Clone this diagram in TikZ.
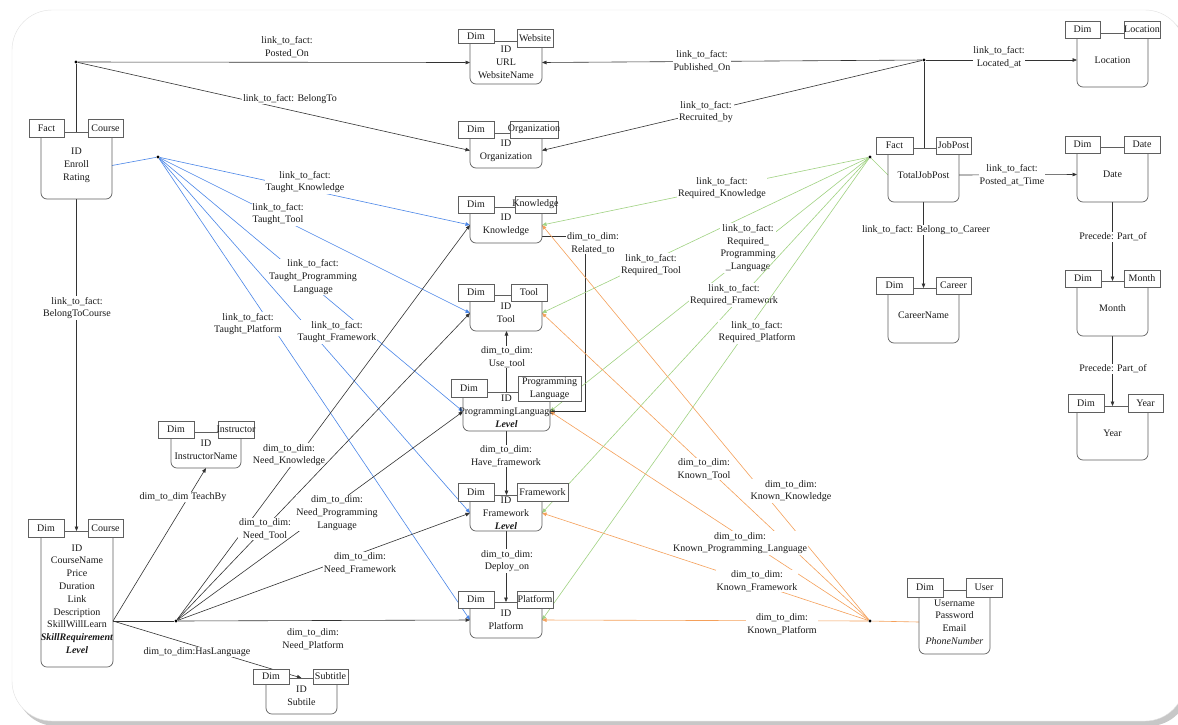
\documentclass[tikz,border=0pt]{standalone}
\usepackage{fontspec}
\setmainfont{Liberation Serif}
\usetikzlibrary{arrows.meta,calc}
\definecolor{cblue}{RGB}{74,134,232}
\definecolor{cgreen}{RGB}{160,210,130}
\definecolor{corange}{RGB}{245,160,90}
\definecolor{ink}{RGB}{25,25,25}
\definecolor{edgec}{RGB}{95,95,95}
\newcommand\myfont{\fontsize{10}{12.8}\selectfont}
\pgfdeclarelayer{bg}
\pgfdeclarelayer{lines}
\pgfsetlayers{bg,lines,main}
\tikzset{
  bodybox/.style={rectangle, inner sep=0, outer sep=0, draw=none},
  btext/.style={align=center, inner sep=0, font=\myfont, text=ink},
  bodyln/.style={draw=edgec, line width=0.7pt},
  hdbox/.style={rectangle, draw=edgec, fill=white, line width=0.7pt, inner sep=0, outer sep=0},
  htext/.style={align=center, inner sep=0, font=\myfont, text=ink},
  lbl/.style={align=center, fill=white, inner sep=0.8pt, font=\myfont, text=ink},
  conn/.style={draw=black!80, line width=0.6pt},
  bl/.style={draw=cblue, line width=0.6pt},
  gr/.style={draw=cgreen, line width=0.6pt},
  orl/.style={draw=corange, line width=0.6pt},
  arr/.style={-{Triangle[length=4.5pt,width=3.6pt]}},
  dot/.style={circle, fill=black, inner sep=0, minimum size=3.3pt}
}
\newcommand\ent[5]{%
  \node[bodybox, minimum width=#3, minimum height=#4] (#1) at (#2) {};
  \node[btext] (#1t) at (#1.center) {#5};
  \draw[bodyln, rounded corners=6pt] (#1.north west) -- (#1.south west) -- (#1.south east) -- (#1.north east);
  \draw[bodyln] (#1.north west) -- (#1.north east);}
\newcommand\hdr[5]{%
  \node[hdbox, minimum width=#3, minimum height=#4] (#1) at (#2) {};
  \node[htext] (#1t) at (#1.center) {#5};}
\begin{document}
\begin{tikzpicture}[x=1pt,y=-1pt]
\useasboundingbox (0,0) rectangle (1178,724);
\begin{pgfonlayer}{bg}
  \fill[black!22, rounded corners=40pt] (16,14) rectangle (1189,726);
  \draw[draw=black!12, fill=white, rounded corners=40pt] (12,10) rectangle (1185,721);
\end{pgfonlayer}

% entities
\ent{web}{506,62.5}{72}{43}{ID\\URL\\WebsiteName}
\hdr{webA}{476,36}{36}{14}{Dim}
\hdr{webB}{535,38}{36}{18}{Website}

\ent{org}{506,150.5}{72}{35}{ID\\Organization}
\hdr{orgA}{476,129.5}{36}{17}{Dim}
\hdr{orgB}{534,129.5}{48}{17}{Organization}

\ent{kno}{506,225}{72}{36}{ID\\Knowledge}
\hdr{knoA}{476,204.5}{36}{17}{Dim}
\hdr{knoB}{535.5,204.5}{41}{17}{Knowledge}

\ent{tool}{506,313}{72}{36}{ID\\Tool}
\hdr{toolA}{476,292.5}{36}{17}{Dim}
\hdr{toolB}{529,292.5}{36}{17}{Tool}

\ent{pl}{506.5,411.5}{87}{39}{ID\\ProgrammingLanguage\\\textbf{\textit{Level}}}
\hdr{plA}{469,388}{36}{18}{Dim}
\hdr{plB}{549.5,388.5}{63}{25}{Programming\\Language}

\ent{fw}{506,513}{72}{36}{ID\\Framework\\\textbf{\textit{Level}}}
\hdr{fwA}{476,492}{36}{18}{Dim}
\hdr{fwB}{542.5,492}{51}{18}{Framework}

\ent{pf}{506,620}{72}{36}{ID\\Platform}
\hdr{pfA}{476,599.5}{36}{17}{Dim}
\hdr{pfB}{535,599.5}{36}{17}{Platform}

\ent{fc}{76.5,165.5}{71}{67}{ID\\Enroll\\Rating}
\hdr{fcA}{46.5,128}{35}{18}{Fact}
\hdr{fcB}{105.5,128}{35}{18}{Course}

\ent{jp}{923.5,175}{71}{54}{TotalJobPost}
\hdr{jpA}{894.5,145.5}{37}{17}{Fact}
\hdr{jpB}{953.5,145.5}{35}{17}{JobPost}

\ent{loc}{1112.5,60}{71}{54}{Location}
\hdr{locA}{1082.5,29.5}{35}{17}{Dim}
\hdr{locB}{1142,29.5}{36}{17}{Location}

\ent{date}{1112.5,174.5}{71}{55}{Date}
\hdr{dateA}{1082.5,144.5}{35}{17}{Dim}
\hdr{dateB}{1142,144.5}{36}{17}{Date}

\ent{car}{923.5,315.5}{71}{55}{CareerName}
\hdr{carA}{894.5,285.5}{37}{17}{Dim}
\hdr{carB}{953.5,285.5}{35}{17}{Career}

\ent{mon}{1112.5,308.5}{71}{55}{Month}
\hdr{monA}{1083,278.5}{36}{17}{Dim}
\hdr{monB}{1142,278.5}{36}{17}{Month}

\ent{year}{1112.5,433}{71}{54}{Year}
\hdr{yearA}{1086,403}{36}{18}{Dim}
\hdr{yearB}{1145.5,403}{35}{18}{Year}

\ent{ins}{206,450}{70}{36}{ID\\InstructorName}
\hdr{insA}{176,429.5}{36}{17}{Dim}
\hdr{insB}{236,429.5}{36}{17}{Instructor}

\ent{dc}{77,599}{72}{136}{ID\\CourseName\\Price\\Duration\\Link\\Description\\SkillWillLearn\\\textbf{\textit{SkillRequirement}}\\\textbf{\textit{Level}}}
\hdr{dcA}{46,528}{36}{18}{Dim}
\hdr{dcB}{105.5,528}{35}{18}{Course}

\ent{sub}{301.5,696}{71}{36}{ID\\Subtile}
\hdr{subA}{271,676.5}{36}{15}{Dim}
\hdr{subB}{330.5,676.5}{35}{15}{Subtitle}

\ent{usr}{954.5,622}{71}{64}{Username\\Password\\Email\\\textit{PhoneNumber}}
\hdr{usrA}{925,587.5}{36}{19}{Dim}
\hdr{usrB}{984,587.5}{36}{19}{User}

% junction dots
\node[dot] (dA) at (76,62) {};
\node[dot] (dB) at (924,60) {};
\node[dot] (dC) at (158,157) {};
\node[dot] (dD) at (870,157) {};
\node[dot] (dE) at (870,621) {};
\node[dot] (dF) at (176,621) {};
\coordinate (dcR) at ($(dc.south east)+(0,-46)$);

\begin{pgfonlayer}{lines}
% top left
\draw[conn] (dA) -- (dA |- fc.north);
\draw[conn,arr] (dA) -- (web.west) node[lbl] at (287,47) {link\_to\_fact:\\Posted\_On};
\draw[conn,arr] (dA) -- (org.west) node[lbl] at (290,99) {link\_to\_fact: BelongTo};
% top right
\draw[conn] (dB) -- (dB |- jp.north);
\draw[conn,arr] (dB) -- (web.east) node[lbl] at (702,61) {link\_to\_fact:\\Published\_On};
\draw[conn,arr] (dB) -- (org.east) node[lbl] at (706,112) {link\_to\_fact:\\Recruited\_by};
\draw[conn,arr] (dB) -- (loc.west) node[lbl] at (999,57) {link\_to\_fact:\\Located\_at};
% job post and time
\draw[conn,arr] (jp.east) -- (date.west) node[lbl] at (1012,175) {link\_to\_fact:\\Posted\_at\_Time};
\draw[conn,arr] (jp.south) -- (car.north) node[lbl] at (926,230) {link\_to\_fact: Belong\_to\_Career};
\draw[conn,arr] (date.south) -- (mon.north) node[lbl] at (1113,237) {Precede: Part\_of};
\draw[conn,arr] (mon.south) -- (year.north) node[lbl] at (1113,369) {Precede: Part\_of};
% course
\draw[conn,arr] (fc.south) -- (fc.south |- dc.north) node[lbl] at (77,308) {link\_to\_fact:\\BelongToCourse};
% middle column
\draw[conn,arr] ($(kno.south east)+(0,-7)$) -| ($(pl.east)+(35,0)$) -- (pl.east) node[lbl] at (593,243) {dim\_to\_dim:\\Related\_to};
\draw[conn,arr] (pl.north) -- (pl.north |- tool.south) node[lbl] at (507,357) {dim\_to\_dim:\\Use\_tool};
\draw[conn,arr] (pl.south) -- (pl.south |- fw.north) node[lbl] at (506,456) {dim\_to\_dim:\\Have\_framework};
\draw[conn,arr] (fw.south) -- (pf.north) node[lbl] at (507,561) {dim\_to\_dim:\\Deploy\_on};
% blue
\draw[bl] (fc.east) -- (dC);
\draw[bl,arr] (dC) -- (kno.west) node[lbl] at (305,182) {link\_to\_fact:\\Taught\_Knowledge};
\draw[bl,arr] (dC) -- (tool.west) node[lbl] at (278,214) {link\_to\_fact:\\Taught\_Tool};
\draw[bl,arr] (dC) -- (pl.west) node[lbl] at (313,277) {link\_to\_fact:\\Taught\_Programming\\Language};
\draw[bl,arr] (dC) -- (fw.west) node[lbl] at (337,332) {link\_to\_fact:\\Taught\_Framework};
\draw[bl,arr] (dC) -- (pf.west) node[lbl] at (248,324) {link\_to\_fact:\\Taught\_Platform};
% green
\draw[gr] (dD) -- (jp.west);
\draw[gr,arr] (dD) -- (kno.east) node[lbl] at (722,188) {link\_to\_fact:\\Required\_Knowledge};
\draw[gr,arr] (dD) -- (tool.east) node[lbl] at (651,265) {link\_to\_fact:\\Required\_Tool};
\draw[gr,arr] (dD) -- (pl.east) node[lbl] at (748,248) {link\_to\_fact:\\Required\_\\Programming\\\_Language};
\draw[gr,arr] (dD) -- (fw.east) node[lbl] at (734,295) {link\_to\_fact:\\Required\_Framework};
\draw[gr,arr] (dD) -- (pf.east) node[lbl] at (757,332) {link\_to\_fact:\\Required\_Platform};
% orange
\draw[orl] (dE) -- (usr.west);
\draw[orl,arr] (dE) -- (kno.east) node[lbl] at (791,491) {dim\_to\_dim:\\Known\_Knowledge};
\draw[orl,arr] (dE) -- (tool.east) node[lbl] at (704,469) {dim\_to\_dim:\\Known\_Tool};
\draw[orl,arr] (dE) -- (pl.east) node[lbl] at (740,543) {dim\_to\_dim:\\Known\_Programming\_Language};
\draw[orl,arr] (dE) -- (fw.east) node[lbl] at (757,581) {dim\_to\_dim:\\Known\_Framework};
\draw[orl,arr] (dE) -- (pf.east) node[lbl] at (782,624) {dim\_to\_dim:\\Known\_Platform};
% black from course
\draw[conn] (dcR) -- (dF);
\draw[conn,arr] (dF) -- (pf.west) node[lbl] at (313,639) {dim\_to\_dim:\\Need\_Platform};
\draw[conn,arr] (dF) -- (kno.west) node[lbl] at (289,455) {dim\_to\_dim:\\Need\_Knowledge};
\draw[conn,arr] (dF) -- (tool.west) node[lbl] at (265,529) {dim\_to\_dim:\\Need\_Tool};
\draw[conn,arr] (dF) -- (pl.west) node[lbl] at (337,513) {dim\_to\_dim:\\Need\_Programming\\Language};
\draw[conn,arr] (dF) -- (fw.west) node[lbl] at (360,563) {dim\_to\_dim:\\Need\_Framework};
\draw[conn,arr] (dcR) -- (ins.south) node[lbl] at (183,497) {dim\_to\_dim TeachBy};
\draw[conn,arr] (dcR) -- (sub.north) node[lbl] at (197,652) {dim\_to\_dim:HasLanguage};
\end{pgfonlayer}
\end{tikzpicture}
\end{document}
